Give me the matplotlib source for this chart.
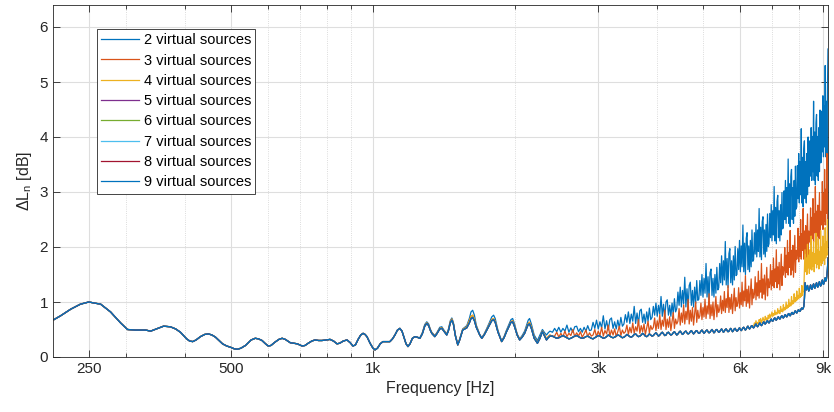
import matplotlib
matplotlib.use('Agg')
import matplotlib.pyplot as plt
import numpy as np

plt.rcParams['font.family'] = ['Liberation Sans', 'DejaVu Sans']
plt.rcParams['mathtext.fontset'] = 'custom'
plt.rcParams['mathtext.rm'] = 'Liberation Sans'
plt.rcParams['mathtext.default'] = 'regular'

# low band: all eight curves lie on top of each other (Hz)
f_a = [211, 218, 229, 240, 250, 265, 278, 292, 302, 314,
       330, 338, 350, 360, 372, 382, 391, 403, 409, 415,
       422, 431, 440, 448, 456, 464, 480, 490, 500, 508,
       516, 525, 537, 552, 563, 572, 582, 592, 600, 608,
       620, 632, 642, 652, 668, 691, 708, 718, 729, 742,
       754, 767, 780, 795, 811, 825, 839, 850, 865, 881,
       895, 907, 918, 930, 942, 953, 962, 971, 986, 1000,
       1010, 1022, 1036, 1050, 1068, 1086, 1100, 1113, 1127, 1140,
       1152, 1163, 1175, 1186, 1198, 1212, 1227, 1240]
lo_a = [0.68, 0.75, 0.87, 0.96, 1.00, 0.96, 0.82, 0.62, 0.50, 0.49,
        0.49, 0.47, 0.52, 0.56, 0.55, 0.51, 0.45, 0.33, 0.29, 0.28,
        0.31, 0.37, 0.41, 0.42, 0.40, 0.36, 0.24, 0.20, 0.175, 0.15,
        0.14, 0.16, 0.21, 0.31, 0.34, 0.33, 0.30, 0.24, 0.20, 0.21,
        0.27, 0.32, 0.34, 0.32, 0.26, 0.24, 0.20, 0.21, 0.25, 0.29,
        0.31, 0.30, 0.30, 0.31, 0.32, 0.29, 0.24, 0.25, 0.29, 0.31,
        0.26, 0.20, 0.22, 0.32, 0.40, 0.43, 0.41, 0.37, 0.25, 0.16,
        0.13, 0.16, 0.24, 0.28, 0.28, 0.28, 0.33, 0.40, 0.49, 0.52,
        0.47, 0.36, 0.24, 0.19, 0.24, 0.34, 0.37, 0.36]

# 1.25k - 2.4k: curves start to separate slightly at the peaks
f_b = [1257, 1272, 1287, 1300, 1312, 1322, 1332, 1352, 1365, 1385,
       1399, 1413, 1433, 1445, 1458, 1469, 1480, 1495, 1512, 1525,
       1549, 1580, 1600, 1613, 1626, 1640, 1655, 1683, 1700, 1720,
       1742, 1765, 1785, 1801, 1815, 1840, 1873, 1895, 1918, 1945,
       1960, 1976, 1995, 2020, 2045, 2070, 2095, 2115, 2132, 2146,
       2165, 2195, 2230, 2255, 2285, 2310, 2331, 2350, 2370]
base_b = [0.34, 0.42, 0.56, 0.61, 0.57, 0.49, 0.43, 0.37, 0.42, 0.51,
          0.52, 0.47, 0.40, 0.48, 0.62, 0.67, 0.60, 0.38, 0.22, 0.30,
          0.49, 0.53, 0.62, 0.70, 0.72, 0.66, 0.54, 0.40, 0.34, 0.40,
          0.49, 0.58, 0.66, 0.68, 0.63, 0.45, 0.28, 0.35, 0.46, 0.57,
          0.63, 0.64, 0.55, 0.40, 0.31, 0.36, 0.43, 0.52, 0.59, 0.60,
          0.52, 0.34, 0.25, 0.33, 0.46, 0.38, 0.31, 0.35, 0.38]
two_b = [0.35, 0.44, 0.59, 0.64, 0.60, 0.51, 0.45, 0.39, 0.44, 0.54,
         0.55, 0.49, 0.42, 0.51, 0.66, 0.71, 0.63, 0.40, 0.23, 0.32,
         0.51, 0.57, 0.70, 0.82, 0.85, 0.76, 0.58, 0.41, 0.35, 0.42,
         0.52, 0.63, 0.73, 0.76, 0.70, 0.48, 0.29, 0.37, 0.49, 0.61,
         0.68, 0.70, 0.60, 0.42, 0.33, 0.39, 0.47, 0.58, 0.67, 0.70,
         0.60, 0.40, 0.30, 0.39, 0.50, 0.44, 0.40, 0.44, 0.47]
three_b = [0.34, 0.43, 0.57, 0.62, 0.58, 0.50, 0.44, 0.38, 0.43, 0.52,
           0.53, 0.48, 0.41, 0.49, 0.64, 0.69, 0.61, 0.39, 0.22, 0.31,
           0.50, 0.55, 0.66, 0.74, 0.76, 0.69, 0.56, 0.40, 0.34, 0.41,
           0.50, 0.60, 0.68, 0.70, 0.65, 0.46, 0.28, 0.36, 0.47, 0.58,
           0.64, 0.66, 0.57, 0.41, 0.32, 0.37, 0.44, 0.54, 0.61, 0.63,
           0.55, 0.36, 0.26, 0.34, 0.47, 0.40, 0.33, 0.37, 0.40]

# noisy high band, 25 Hz bins from 2400 to 9200 Hz (20 bins per row)
f_hi = np.arange(2400, 9201, 25)
hi_two = [
    0.45, 0.52, 0.46, 0.54, 0.45, 0.52, 0.47, 0.58, 0.45, 0.53, 0.45, 0.55, 0.56, 0.46, 0.52, 0.45, 0.54, 0.47, 0.57, 0.48,
    0.49, 0.63, 0.52, 0.67, 0.51, 0.64, 0.53, 0.75, 0.51, 0.66, 0.49, 0.68, 0.71, 0.52, 0.64, 0.51, 0.67, 0.53, 0.72, 0.56,
    0.60, 0.77, 0.63, 0.82, 0.61, 0.78, 0.65, 0.92, 0.61, 0.80, 0.60, 0.84, 0.87, 0.63, 0.78, 0.61, 0.82, 0.65, 0.89, 0.68,
    0.72, 0.92, 0.76, 0.98, 0.74, 0.94, 0.78, 1.10, 0.74, 0.96, 0.72, 1.00, 1.04, 0.76, 0.94, 0.74, 0.98, 0.78, 1.06, 0.82,
    0.88, 1.18, 0.94, 1.27, 0.91, 1.21, 0.97, 1.45, 0.91, 1.24, 0.88, 1.30, 1.36, 0.94, 1.21, 0.91, 1.27, 0.97, 1.39, 1.03,
    1.05, 1.39, 1.12, 1.50, 1.09, 1.43, 1.16, 1.70, 1.09, 1.46, 1.05, 1.53, 1.60, 1.12, 1.43, 1.09, 1.50, 1.16, 1.63, 1.22,
    1.26, 1.70, 1.35, 1.84, 1.31, 1.75, 1.40, 2.10, 1.31, 1.79, 1.26, 1.88, 1.97, 1.35, 1.75, 1.31, 1.84, 1.40, 2.01, 1.48,
    1.50, 1.97, 1.59, 2.12, 1.55, 2.02, 1.64, 2.40, 1.55, 2.07, 1.50, 2.16, 2.26, 1.59, 2.02, 1.55, 2.12, 1.64, 2.31, 1.74,
    1.77, 2.26, 1.87, 2.41, 1.82, 2.31, 1.92, 2.70, 1.82, 2.36, 1.77, 2.46, 2.55, 1.87, 2.31, 1.82, 2.41, 1.92, 2.60, 2.01,
    2.06, 2.61, 2.17, 2.77, 2.11, 2.66, 2.22, 3.10, 2.11, 2.72, 2.06, 2.83, 2.94, 2.17, 2.66, 2.11, 2.77, 2.22, 2.99, 2.33,
    2.37, 3.02, 2.50, 3.21, 2.43, 3.08, 2.56, 3.60, 2.43, 3.15, 2.37, 3.28, 3.41, 2.50, 3.08, 2.43, 3.21, 2.56, 3.47, 2.69,
    2.73, 3.48, 2.88, 3.70, 2.80, 3.55, 2.95, 4.15, 2.80, 3.63, 2.73, 3.78, 3.93, 2.88, 3.55, 2.80, 3.70, 2.95, 4.00, 3.10,
    3.13, 3.93, 3.29, 4.17, 3.21, 4.01, 3.37, 4.65, 3.21, 4.09, 3.13, 4.25, 4.41, 3.29, 4.01, 3.21, 4.17, 3.37, 4.49, 3.53,
    3.54, 4.47, 3.73, 4.75, 3.64, 4.56, 3.82, 5.30, 3.64, 4.65, 3.54, 4.84, 5.60]
hi_three = [
    0.37, 0.38, 0.45, 0.36, 0.43, 0.37, 0.47, 0.37, 0.43, 0.39, 0.50, 0.37, 0.44, 0.38, 0.46, 0.36, 0.42, 0.49, 0.37, 0.44,
    0.38, 0.40, 0.50, 0.37, 0.47, 0.39, 0.54, 0.38, 0.48, 0.42, 0.58, 0.38, 0.49, 0.40, 0.51, 0.37, 0.46, 0.56, 0.39, 0.49,
    0.43, 0.46, 0.58, 0.41, 0.54, 0.44, 0.62, 0.43, 0.55, 0.47, 0.68, 0.43, 0.57, 0.46, 0.60, 0.41, 0.53, 0.65, 0.44, 0.57,
    0.50, 0.54, 0.71, 0.48, 0.66, 0.52, 0.77, 0.50, 0.67, 0.56, 0.85, 0.50, 0.69, 0.54, 0.73, 0.48, 0.64, 0.81, 0.52, 0.69,
    0.60, 0.65, 0.88, 0.58, 0.80, 0.63, 0.95, 0.60, 0.83, 0.68, 1.05, 0.60, 0.85, 0.65, 0.90, 0.58, 0.78, 1.00, 0.63, 0.85,
    0.70, 0.75, 0.98, 0.68, 0.90, 0.73, 1.05, 0.70, 0.93, 0.78, 1.15, 0.70, 0.95, 0.75, 1.00, 0.68, 0.88, 1.10, 0.73, 0.95,
    0.81, 0.87, 1.11, 0.79, 1.03, 0.84, 1.19, 0.81, 1.06, 0.90, 1.30, 0.81, 1.08, 0.87, 1.14, 0.79, 1.00, 1.25, 0.84, 1.08,
    0.92, 0.98, 1.26, 0.89, 1.17, 0.95, 1.36, 0.92, 1.20, 1.02, 1.48, 0.92, 1.23, 0.98, 1.29, 0.89, 1.14, 1.42, 0.95, 1.23,
    1.07, 1.14, 1.46, 1.04, 1.35, 1.11, 1.56, 1.07, 1.39, 1.18, 1.70, 1.07, 1.42, 1.14, 1.49, 1.04, 1.32, 1.63, 1.11, 1.42,
    1.26, 1.33, 1.68, 1.22, 1.57, 1.30, 1.80, 1.26, 1.60, 1.37, 1.95, 1.26, 1.64, 1.33, 1.72, 1.22, 1.53, 1.87, 1.30, 1.64,
    1.49, 1.58, 1.99, 1.45, 1.85, 1.54, 2.12, 1.49, 1.90, 1.63, 2.30, 1.49, 1.94, 1.58, 2.03, 1.45, 1.81, 2.21, 1.54, 1.94,
    1.78, 1.88, 2.34, 1.73, 2.19, 1.83, 2.50, 1.78, 2.24, 1.94, 2.70, 1.78, 2.29, 1.88, 2.39, 1.73, 2.14, 2.60, 1.83, 2.29,
    2.09, 2.20, 2.71, 2.04, 2.54, 2.15, 2.88, 2.09, 2.60, 2.26, 3.10, 2.09, 2.65, 2.20, 2.76, 2.04, 2.48, 2.99, 2.15, 2.65,
    2.40, 2.54, 3.19, 2.32, 2.98, 2.47, 3.41, 2.40, 3.05, 2.61, 3.70, 2.40, 3.12]
hi_low = [
    0.38, 0.36, 0.34, 0.35, 0.37, 0.39, 0.37, 0.35, 0.33, 0.34, 0.36, 0.38, 0.39, 0.37, 0.35, 0.34, 0.35, 0.37, 0.38, 0.36,
    0.34, 0.33, 0.35, 0.37, 0.39, 0.38, 0.36, 0.34, 0.35, 0.37, 0.40, 0.38, 0.36, 0.35, 0.36, 0.38, 0.40, 0.39, 0.37, 0.35,
    0.36, 0.38, 0.41, 0.39, 0.37, 0.36, 0.38, 0.41, 0.42, 0.39, 0.37, 0.38, 0.40, 0.43, 0.41, 0.38, 0.37, 0.39, 0.42, 0.40,
    0.38, 0.39, 0.42, 0.44, 0.41, 0.38, 0.40, 0.43, 0.45, 0.42, 0.39, 0.40, 0.44, 0.45, 0.42, 0.40, 0.41, 0.44, 0.46, 0.43,
    0.40, 0.42, 0.45, 0.47, 0.44, 0.41, 0.43, 0.46, 0.47, 0.44, 0.42, 0.43, 0.46, 0.48, 0.45, 0.42, 0.44, 0.47, 0.48, 0.45,
    0.43, 0.44, 0.47, 0.49, 0.46, 0.43, 0.45, 0.48, 0.49, 0.46, 0.44, 0.45, 0.48, 0.50, 0.47, 0.44, 0.46, 0.49, 0.50, 0.47,
    0.45, 0.46, 0.49, 0.51, 0.48, 0.45, 0.47, 0.50, 0.51, 0.48, 0.46, 0.47, 0.50, 0.52, 0.49, 0.46, 0.48, 0.51, 0.52, 0.49,
    0.47, 0.48, 0.51, 0.53, 0.50, 0.48, 0.50, 0.53, 0.54, 0.51, 0.49, 0.51, 0.54, 0.56, 0.53, 0.51, 0.53, 0.56, 0.57, 0.54,
    0.53, 0.55, 0.58, 0.60, 0.57, 0.55, 0.57, 0.60, 0.62, 0.59, 0.57, 0.59, 0.62, 0.64, 0.61, 0.60, 0.62, 0.65, 0.66, 0.63,
    0.62, 0.64, 0.67, 0.69, 0.66, 0.65, 0.67, 0.70, 0.71, 0.68, 0.67, 0.69, 0.72, 0.73, 0.70, 0.69, 0.71, 0.74, 0.75, 0.72,
    0.71, 0.73, 0.76, 0.77, 0.74, 0.73, 0.75, 0.78, 0.79, 0.76, 0.75, 0.77, 0.80, 0.81, 0.78, 0.78, 0.80, 0.83, 0.84, 0.81,
    0.80, 0.82, 0.85, 0.86, 0.83, 0.83, 0.85, 0.88, 0.89, 0.87, 0.88, 0.92, 1.05, 1.35, 1.28, 1.22, 1.25, 1.30, 1.24, 1.20,
    1.22, 1.27, 1.31, 1.26, 1.23, 1.25, 1.30, 1.33, 1.28, 1.25, 1.27, 1.32, 1.35, 1.30, 1.27, 1.29, 1.34, 1.37, 1.32, 1.29,
    1.31, 1.36, 1.40, 1.35, 1.32, 1.35, 1.41, 1.44, 1.38, 1.40, 1.48, 1.60, 1.80]
# 4 sources: same as the low group below 6.4 kHz, then above it
four_top = [
    0.56, 0.62, 0.58, 0.66, 0.60, 0.63, 0.59, 0.68, 0.64, 0.70, 0.62, 0.66, 0.72, 0.67, 0.64, 0.74, 0.68, 0.71, 0.66, 0.76,
    0.70, 0.78, 0.72, 0.75, 0.82, 0.74, 0.79, 0.76, 0.85, 0.77, 0.81, 0.78, 0.88, 0.80, 0.84, 0.79, 0.92, 0.83, 0.87, 0.82,
    0.95, 0.85, 0.90, 0.86, 1.00, 0.88, 0.94, 0.90, 1.05, 0.92, 0.98, 0.93, 1.10, 0.96, 1.02, 0.97, 1.15, 1.00, 1.08, 1.02,
    1.20, 1.04, 1.12, 1.06, 1.25, 1.08, 1.15, 1.10, 1.30, 1.12, 1.18, 1.20, 1.60, 1.95, 1.55, 1.80, 1.50, 2.05, 1.62, 1.85,
    1.52, 1.95, 1.60, 2.20, 1.58, 1.90, 1.65, 2.10, 1.55, 1.88, 1.70, 2.25, 1.62, 1.95, 1.68, 2.15, 1.60, 1.92, 1.72, 2.30,
    1.66, 2.00, 1.70, 2.20, 1.75, 2.05, 1.68, 2.35, 1.80, 2.10, 1.85, 2.50, 2.00]
hi_four = hi_low[:160] + four_top

labels = ['%d virtual sources' % n for n in range(2, 10)]
colors = ['#0072BD', '#D95319', '#EDB120', '#7E2F8E',
          '#77AC30', '#4DBEEE', '#A2142F', '#0072BD']
mid_parts = [two_b, three_b, three_b, base_b, base_b, base_b, base_b, base_b]
hi_parts = [hi_two, hi_three, hi_four, hi_low, hi_low, hi_low, hi_low, hi_low]

freq = np.concatenate([f_a, f_b, f_hi])

fig = plt.figure(figsize=(8.34, 4.12), dpi=100)
ax = fig.add_axes([53/834, 1-357/412, 775/834, 352/412])

for mid, hi, c, lab in zip(mid_parts, hi_parts, colors, labels):
    ax.plot(freq, np.concatenate([lo_a, mid, hi]), color=c, lw=0.9, label=lab)

ax.set_xscale('log')
ax.set_xlim(210, 9200)
ax.set_ylim(0, 6.4)
ax.set_xticks([250, 500, 1000, 3000, 6000, 9000])
ax.set_xticklabels(['250', '500', '1k', '3k', '6k', '9k'])
ax.set_xticks([300, 400, 600, 700, 800, 900, 2000, 4000, 5000, 7000, 8000], minor=True)
ax.set_xticklabels([], minor=True)
ax.set_yticks(range(0, 7))

ax.grid(True, which='major', color='#dedede', lw=0.8)
ax.grid(True, which='minor', axis='x', color='#d0d0d0', lw=0.6, ls=':')
ax.set_axisbelow(True)

ax.tick_params(which='both', direction='in', top=True, right=True,
               colors='#262626', labelsize=11, width=0.6)
ax.tick_params(which='major', length=5)
ax.tick_params(which='minor', length=3)
for s in ax.spines.values():
    s.set_color('#262626')
    s.set_linewidth(0.6)

ax.set_xlabel('Frequency [Hz]', fontsize=11.5, color='#262626')
ax.set_ylabel(r'ΔL$_{\mathrm{n}}$ [dB]', fontsize=11.5, color='#262626')

leg = ax.legend(loc='upper left', bbox_to_anchor=(0.0568, 0.932), borderaxespad=0,
                fontsize=10.5, fancybox=False, framealpha=1, edgecolor='#262626',
                handlelength=2.6, handletextpad=0.3, labelspacing=0.43,
                borderpad=0.3)
leg.get_frame().set_linewidth(0.6)

fig.savefig('out.png', dpi=100)
